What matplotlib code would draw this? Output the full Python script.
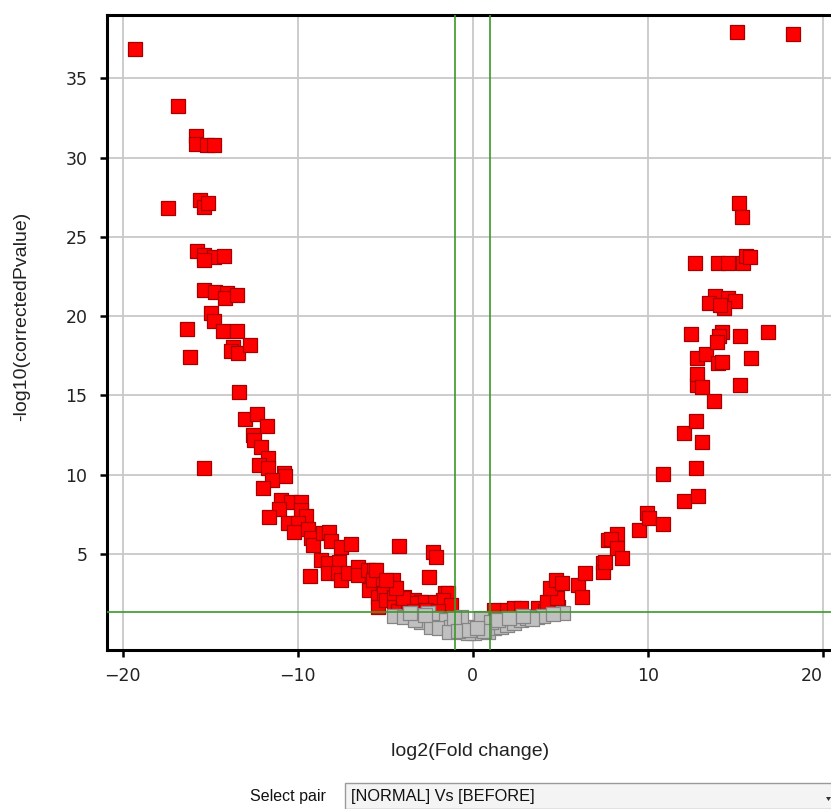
import matplotlib
matplotlib.use("Agg")
import matplotlib.pyplot as plt
from matplotlib.patches import Rectangle, Polygon

# log2 fold change / -log10 corrected p-value, significant entities
up_fc = [1.20, 1.99, 2.34, 2.74, 3.76, 4.16, 4.90, 4.27, 4.84, 4.44, 4.79, 5.13,
         6.04, 6.27, 6.44, 7.46, 7.46, 7.75, 7.58, 8.26, 7.92, 8.26, 8.55, 9.52,
         9.97, 10.09, 10.88, 10.88, 12.08, 12.88, 12.76, 12.08, 12.76, 13.11, 13.79,
         12.82, 12.82, 13.11, 15.27, 12.82, 13.33, 14.02, 14.25, 15.90, 12.48, 14.25,
         14.07, 13.96, 15.27, 16.87, 13.85, 14.59, 14.99, 13.50, 14.36, 14.13, 12.71,
         14.02, 14.59, 15.44, 15.61, 15.84, 15.21, 15.38, 15.10, 18.29]
up_p = [1.45, 1.45, 1.58, 1.58, 1.58, 1.42, 1.64, 1.96, 2.21, 2.84, 3.34, 3.15,
        3.03, 2.27, 3.79, 4.42, 3.85, 5.87, 4.48, 6.25, 5.93, 5.36, 4.73, 6.50,
        7.57, 7.26, 6.88, 10.03, 8.33, 8.64, 10.41, 12.62, 13.38, 12.05, 14.64,
        15.65, 16.34, 15.52, 15.65, 17.35, 17.60, 17.03, 17.10, 17.35, 18.86, 18.99,
        18.74, 18.36, 18.74, 18.99, 21.26, 21.14, 20.95, 20.82, 20.50, 20.69, 23.34,
        23.34, 23.34, 23.34, 23.79, 23.72, 27.13, 26.25, 37.92, 37.79]

down_fc = [-19.32, -16.87, -15.84, -15.84, -15.16, -14.81, -17.44, -15.61, -15.33,
           -15.10, -15.78, -15.33, -14.76, -14.19, -15.38, -15.33, -14.70, -14.07,
           -14.13, -13.45, -16.30, -14.93, -14.76, -14.25, -13.45, -16.13, -13.68,
           -13.79, -13.39, -12.71, -13.33, -12.99, -12.31, -11.74, -12.54, -12.48,
           -12.08, -11.68, -12.19, -11.68, -10.77, -10.71, -15.33, -11.45, -11.97,
           -10.94, -10.37, -9.80, -11.05, -9.80, -9.52, -11.62, -10.54, -9.97,
           -10.20, -9.40, -9.23, -9.12, -8.55, -8.21, -8.09, -7.52, -6.95, -8.66,
           -8.26, -7.64, -8.26, -7.69, -7.52, -7.12, -6.55, -6.55, -9.29, -5.98,
           -5.64, -5.93, -5.70, -5.41, -5.41, -5.13, -4.56, -4.50, -5.07, -4.96,
           -4.50, -3.93, -3.93, -3.36, -3.13, -4.50, -4.27, -3.70, -4.22, -2.28,
           -2.11, -2.51, -1.60, -1.42, -1.71, -1.25, -2.45, -2.96, -3.53, -3.99,
           -4.39, -3.36, -2.68, -1.99, -5.53, -4.96]
down_p = [36.85, 33.25, 31.36, 30.85, 30.79, 30.79, 26.81, 27.32, 26.88,
          27.13, 24.10, 23.85, 23.72, 23.79, 23.53, 21.64, 21.51, 21.45,
          21.14, 21.32, 19.18, 20.19, 19.68, 19.05, 19.05, 17.41, 18.04,
          17.79, 17.67, 18.17, 15.21, 13.50, 13.82, 13.06, 12.49, 12.18,
          11.74, 11.04, 10.60, 10.41, 10.09, 9.91, 10.41, 9.65, 9.15,
          8.39, 8.26, 8.26, 7.82, 7.76, 7.38, 7.32, 6.94, 6.94,
          6.37, 6.56, 5.99, 5.55, 6.31, 6.37, 5.80, 5.43, 5.62, 4.61,
          4.42, 4.48, 3.79, 3.79, 3.34, 3.79, 4.16, 3.66, 3.60, 3.97,
          3.97, 2.71, 3.34, 2.27, 1.64, 3.15, 3.34, 2.84, 2.52, 2.08,
          2.27, 2.27, 1.89, 2.08, 1.64, 1.64, 1.40, 1.40, 5.49, 5.11,
          4.79, 3.53, 2.52, 2.52, 2.08, 1.77, 1.96, 1.96, 1.89, 2.21,
          2.84, 1.40, 1.45, 1.40, 3.97, 3.34]

# entities that did not pass the filter
ns_fc = [-2.56, -2.96, -2.11, -1.54, -2.39, -1.94, -1.25, -0.85, -1.37, -0.51,
         0.06, -0.11, 0.46, 0.85, 1.20, 1.60, 1.99, 2.34, 2.74, 3.13, 3.70, 5.19,
         -0.68, -1.08, 0.46, 1.03, 1.42, -0.28, -0.85, 0.63, -4.50, -3.90, -3.30,
         4.00, 4.60, 3.40, -0.20, 0.25, -3.60, -2.75, 2.10, 2.90]
ns_p = [1.26, 0.69, 0.95, 0.82, 0.38, 0.32, 0.38, 0.63, 0.05, 0.06,
        0.02, 0.38, 0.19, 0.06, 0.32, 0.38, 0.50, 0.63, 0.82, 0.95, 1.01, 1.26,
        1.01, 0.95, 0.95, 0.69, 0.82, 0.0, 0.10, 0.12, 1.10, 1.00, 0.85,
        1.10, 1.20, 0.90, 0.20, 0.30, 1.25, 1.15, 0.95, 1.05]

fc_cut = 1.0
p_cut = 1.3

x_ticks = [-20, -10, 0, 10, 20]
y_ticks = [5, 10, 15, 20, 25, 30, 35]

fig = plt.figure(figsize=(8.31, 8.09), dpi=100)
fig.patch.set_facecolor("white")
ax = fig.add_axes([107 / 831, 159 / 809, 724 / 831, 635 / 809])

ax.set_xlim(-20.9, 20.48)
ax.set_ylim(-1.07, 39.0)
ax.set_xticks(x_ticks)
ax.set_yticks(y_ticks)
ax.grid(True, color="#c8c8c8", linewidth=1.3)
ax.set_axisbelow(True)

for side in ("left", "top", "bottom"):
    ax.spines[side].set_linewidth(2.2)
    ax.spines[side].set_color("black")
ax.spines["right"].set_visible(False)
ax.tick_params(axis="both", direction="out", length=5, width=1.8,
               labelsize=12.5, labelcolor="#222222", pad=7)
ax.tick_params(axis="y", pad=9)
# keep the last x label inside the canvas
ax.get_xticklabels()[-1].set_horizontalalignment("right")

ax.scatter(up_fc, up_p, marker="s", s=88, c="#ff0000", edgecolors="#a80000",
           linewidths=0.9, zorder=3)
ax.scatter(down_fc, down_p, marker="s", s=88, c="#ff0000", edgecolors="#a80000",
           linewidths=0.9, zorder=3)
ax.scatter(ns_fc, ns_p, marker="s", s=88, c="#c0c0c0", edgecolors="#858585",
           linewidths=0.9, zorder=4)

ax.axvline(-fc_cut, color="#3a9a2a", linewidth=1.2, zorder=5)
ax.axvline(fc_cut, color="#3a9a2a", linewidth=1.2, zorder=5)
ax.axhline(p_cut, color="#3a9a2a", linewidth=1.2, zorder=5)

lab_font = "Liberation Sans"
fig.text(470 / 831, 1 - 752 / 809, "log2(Fold change)", ha="center", va="center",
         fontsize=14, family=lab_font, color="#222222")
fig.text(22 / 831, 1 - 316 / 809, "-log10(correctedPvalue)", ha="center", va="center",
         rotation=90, fontsize=14, family=lab_font, color="#222222")

# pair selector below the plot
fig.text(326 / 831, 1 - 797 / 809, "Select pair", ha="right", va="center",
         fontsize=11.5, family=lab_font, color="#111111")
fig.patches.append(Rectangle((345 / 831, 0), 490 / 831, 26 / 809,
                             transform=fig.transFigure, facecolor="#f4f4f4",
                             edgecolor="#9a9a9a", linewidth=1.0))
fig.text(351 / 831, 1 - 797 / 809, "[NORMAL] Vs [BEFORE]", ha="left", va="center",
         fontsize=11.8, family=lab_font, color="#111111")
fig.patches.append(Polygon([(826 / 831, 12 / 809), (831 / 831, 12 / 809),
                            (828.5 / 831, 8 / 809)],
                           closed=True, transform=fig.transFigure,
                           facecolor="#333333", edgecolor="none"))

fig.savefig("out.png", dpi=100, facecolor="white")
